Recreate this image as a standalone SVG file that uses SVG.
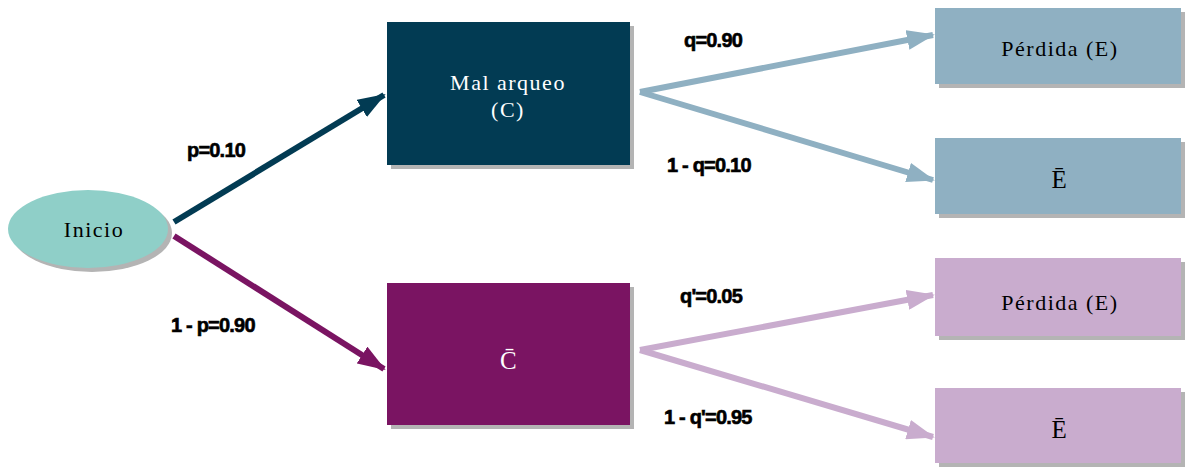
<svg xmlns="http://www.w3.org/2000/svg" width="1187" height="467" viewBox="0 0 1187 467">
<defs>
<style>
.lbl{font-family:"Liberation Sans",Arial,sans-serif;font-weight:900;font-size:20px;fill:#000;letter-spacing:-0.8px;stroke:#000;stroke-width:0.6px}
.nt{font-family:"Liberation Serif","Times New Roman",serif;font-size:22px;letter-spacing:1.5px;text-anchor:middle}
.big{font-size:25px}
.sh{fill:#b4b4b4}
.c{fill:none;stroke-width:6}
</style>
<marker id="aD" markerWidth="28" markerHeight="20" refX="26" refY="10" orient="auto" markerUnits="userSpaceOnUse"><path d="M0,0 L28,10 L0,20 z" fill="#023b53"/></marker>
<marker id="aP" markerWidth="28" markerHeight="20" refX="26" refY="10" orient="auto" markerUnits="userSpaceOnUse"><path d="M0,0 L28,10 L0,20 z" fill="#7a1462"/></marker>
<marker id="aB" markerWidth="28" markerHeight="20" refX="26" refY="10" orient="auto" markerUnits="userSpaceOnUse"><path d="M0,0 L28,10 L0,20 z" fill="#8fb0c2"/></marker>
<marker id="aL" markerWidth="28" markerHeight="20" refX="26" refY="10" orient="auto" markerUnits="userSpaceOnUse"><path d="M0,0 L28,10 L0,20 z" fill="#c9acce"/></marker>
</defs>
<rect width="1187" height="467" fill="#fff"/>
<g id="connectors">
<line class="c" x1="174" y1="222" x2="384" y2="95" stroke="#023b53" marker-end="url(#aD)"/>
<line class="c" x1="174" y1="236" x2="384" y2="369" stroke="#7a1462" marker-end="url(#aP)"/>
<polyline class="c" points="640,92 933,35" stroke="#8fb0c2" marker-end="url(#aB)"/>
<polyline class="c" points="640,92 933,180" stroke="#8fb0c2" marker-end="url(#aB)"/>
<polyline class="c" points="640,350 933,295" stroke="#c9acce" marker-end="url(#aL)"/>
<polyline class="c" points="640,350 933,437" stroke="#c9acce" marker-end="url(#aL)"/>
<text class="lbl" x="187" y="157">p=0.10</text>
<text class="lbl" x="171" y="332">1 - p=0.90</text>
<text class="lbl" x="684" y="47">q=0.90</text>
<text class="lbl" x="667" y="172">1 - q=0.10</text>
<text class="lbl" x="680" y="303">q'=0.05</text>
<text class="lbl" x="664" y="424">1 - q'=0.95</text>
</g>
<g id="inicio">
<ellipse class="sh" cx="92" cy="233" rx="80" ry="39"/>
<ellipse cx="88" cy="229" rx="80" ry="39" fill="#8fcfc8"/>
<text class="nt" x="94" y="237" fill="#000">Inicio</text>
</g>
<g id="malarqueo">
<rect class="sh" x="391" y="26" width="243" height="143"/>
<rect x="387" y="22" width="243" height="143" fill="#023b53"/>
<text class="nt" x="508" y="90" fill="#fff">Mal arqueo</text>
<text class="nt" x="508" y="117" fill="#fff">(C)</text>
</g>
<g id="noC">
<rect class="sh" x="391" y="287" width="243" height="142"/>
<rect x="387" y="283" width="243" height="142" fill="#7a1462"/>
<text class="nt big" x="509" y="369" fill="#fff">C̄</text>
</g>
<g id="perdida1">
<rect class="sh" x="939" y="12" width="246" height="76"/>
<rect x="935" y="8" width="246" height="76" fill="#8fb0c2"/>
<text class="nt" x="1060" y="56" fill="#000">Pérdida (E)</text>
</g>
<g id="noE1">
<rect class="sh" x="939" y="142" width="246" height="76"/>
<rect x="935" y="138" width="246" height="76" fill="#8fb0c2"/>
<text class="nt big" x="1060" y="188" fill="#000">Ē</text>
</g>
<g id="perdida2">
<rect class="sh" x="939" y="262" width="246" height="78"/>
<rect x="935" y="258" width="246" height="78" fill="#c9acce"/>
<text class="nt" x="1060" y="310" fill="#000">Pérdida (E)</text>
</g>
<g id="noE2">
<rect class="sh" x="939" y="392" width="246" height="75"/>
<rect x="935" y="388" width="246" height="75" fill="#c9acce"/>
<text class="nt big" x="1060" y="438" fill="#000">Ē</text>
</g>
</svg>
